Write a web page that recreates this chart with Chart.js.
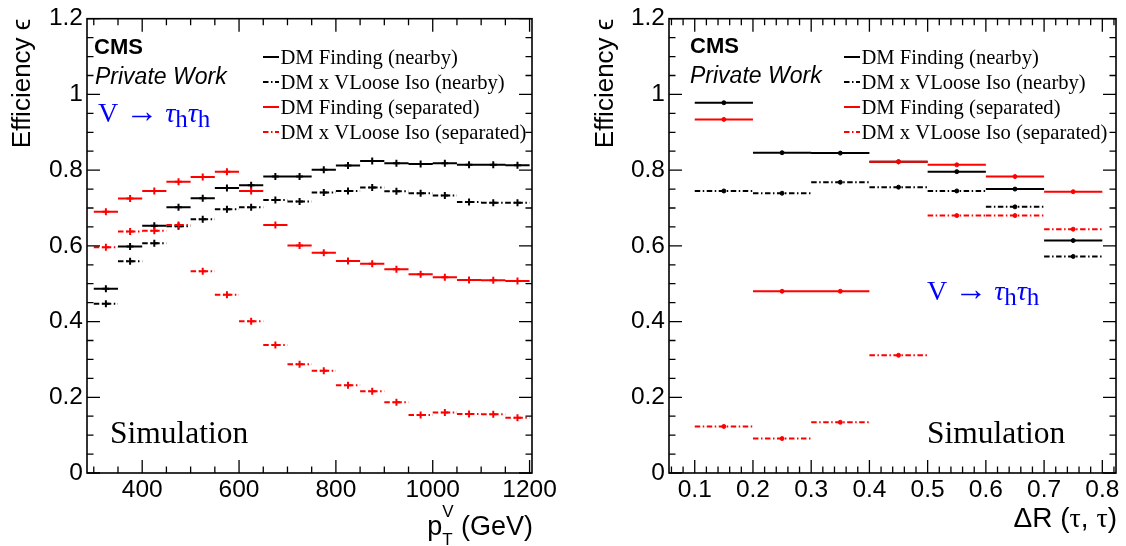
<!DOCTYPE html>
<html>
<head>
<meta charset="utf-8">
<title>Tau pair efficiency</title>
<script src="https://cdn.jsdelivr.net/npm/chart.js@4.4.1/dist/chart.umd.min.js"></script>
<style>
  html, body { margin: 0; padding: 0; background: #fff; }
  #wrap { position: relative; width: 1126px; height: 546px; }
  canvas { position: absolute; top: 0; }
  #c-pt { left: 0; }
  #c-dr { left: 563px; }
</style>
</head>
<body>
<div id="wrap">
  <canvas id="c-pt" width="563" height="546"></canvas>
  <canvas id="c-dr" width="563" height="546"></canvas>
</div>
<script>
// ---- data ----
const seriesLabels = [
    "DM Finding (nearby)",
    "DM x VLoose Iso (nearby)",
    "DM Finding (separated)",
    "DM x VLoose Iso (separated)",
];

// left panel: pT of the boson (GeV), 50 GeV bins
const ptEdges = [300, 350, 400, 450, 500, 550, 600, 650, 700, 750, 800, 850, 900, 950, 1000, 1050, 1100, 1150, 1200];
const dmNearbyPt = [0.487, 0.598, 0.653, 0.702, 0.726, 0.753, 0.760, 0.783, 0.783, 0.801, 0.812, 0.824, 0.818, 0.816, 0.818, 0.814, 0.814, 0.813];
const isoNearbyPt = [0.447, 0.559, 0.607, 0.652, 0.670, 0.697, 0.702, 0.721, 0.717, 0.741, 0.745, 0.754, 0.744, 0.739, 0.733, 0.716, 0.714, 0.714];
const dmSepPt = [0.690, 0.725, 0.745, 0.769, 0.782, 0.796, 0.745, 0.655, 0.601, 0.582, 0.560, 0.553, 0.538, 0.525, 0.517, 0.510, 0.509, 0.507];
const isoSepPt = [0.596, 0.638, 0.640, 0.655, 0.533, 0.471, 0.401, 0.338, 0.287, 0.270, 0.232, 0.216, 0.187, 0.153, 0.160, 0.156, 0.155, 0.146];

// right panel: dR(tau, tau), 0.1 bins
const drEdges = [0.1, 0.2, 0.3, 0.4, 0.5, 0.6, 0.7, 0.8];
const dmNearbyDr = [0.978, 0.846, 0.845, 0.822, 0.796, 0.750, 0.614];
const isoNearbyDr = [0.745, 0.739, 0.768, 0.755, 0.745, 0.703, 0.572];
const dmSepDr = [0.934, 0.480, 0.480, 0.822, 0.814, 0.783, 0.743];
const isoSepDr = [0.123, 0.091, 0.134, 0.311, 0.680, 0.680, 0.644];

// ticks
const ptTickValues = [400, 600, 800, 1000, 1200];
const ptTickLabels = ["400", "600", "800", "1000", "1200"];
const ptMinorTicks = [300, 350, 450, 500, 550, 650, 700, 750, 850, 900, 950, 1050, 1100, 1150];
const drTickValues = [0.1, 0.2, 0.3, 0.4, 0.5, 0.6, 0.7, 0.8];
const drTickLabels = ["0.1", "0.2", "0.3", "0.4", "0.5", "0.6", "0.7", "0.8"];
const drMinorTicks = [0.06, 0.08, 0.12, 0.14, 0.16, 0.18, 0.22, 0.24, 0.26, 0.28, 0.32, 0.34, 0.36, 0.38,
    0.42, 0.44, 0.46, 0.48, 0.52, 0.54, 0.56, 0.58, 0.62, 0.64, 0.66, 0.68, 0.72, 0.74, 0.76, 0.78, 0.82];
const effTickValues = [0, 0.2, 0.4, 0.6, 0.8, 1, 1.2];
const effTickLabels = ["0", "0.2", "0.4", "0.6", "0.8", "1", "1.2"];
const effMinorTicks = [0.05, 0.1, 0.15, 0.25, 0.3, 0.35, 0.45, 0.5, 0.55, 0.65, 0.7, 0.75, 0.85, 0.9, 0.95, 1.05, 1.1, 1.15];

// ---- styling ----
const SANS = '"Liberation Sans", Arial, sans-serif';
const SERIF = '"Liberation Serif", "Times New Roman", serif';
const RED = "#ff0000";
const BLACK = "#000000";
const DASH_DOT = [5.5, 2.5, 1.5, 2.5];

const seriesStyles = [
    { color: BLACK, dash: [], order: 4 },
    { color: BLACK, dash: DASH_DOT, order: 3 },
    { color: RED, dash: [], order: 2 },
    { color: RED, dash: DASH_DOT, order: 1 },
];

// one flat segment per bin with a marker at the bin centre, gaps between bins
function binSteps(edges, values) {
    const pts = [];
    values.forEach((v, i) => {
        const lo = edges[i];
        const hi = edges[i + 1];
        pts.push({ x: lo, y: v }, { x: (lo + hi) / 2, y: v }, { x: hi, y: v }, { x: hi, y: null });
    });
    return pts;
}

function makeDatasets(edges, seriesList, marker) {
    return seriesList.map((values, i) => {
        const st = seriesStyles[i];
        return {
            label: seriesLabels[i],
            data: binSteps(edges, values),
            borderColor: st.color,
            backgroundColor: st.color,
            borderWidth: 2,
            borderDash: st.dash,
            order: st.order,
            spanGaps: false,
            tension: 0,
            fill: false,
            pointStyle: marker.style,
            pointRadius: (c) => (c.index % 4 === 1 ? marker.radius : 0),
            pointBorderWidth: marker.width,
            pointBorderColor: st.color,
            pointBackgroundColor: st.color,
        };
    });
}

function drawParts(ctx, x, base, parts) {
    parts.forEach(([t, font, dy]) => {
        ctx.font = font;
        ctx.fillText(t, x, base + dy);
        x += ctx.measureText(t).width;
    });
}

function partsWidth(ctx, parts) {
    return parts.reduce((w, [t, font]) => {
        ctx.font = font;
        return w + ctx.measureText(t).width;
    }, 0);
}

function drawDecay(ctx, x, base) {
    ctx.fillStyle = "#0000ff";
    drawParts(ctx, x, base, [
        ["V ", `28px ${SERIF}`, 0],
        ["\u2192", `33px ${SERIF}`, 0],
        [" ", `28px ${SERIF}`, 0],
        ["\u03C4", `italic 28px ${SERIF}`, 0],
        ["h", `25px ${SERIF}`, 5],
        ["\u03C4", `italic 28px ${SERIF}`, 0],
        ["h", `25px ${SERIF}`, 5],
    ]);
}

// frame, inner ticks, labels and legend in ROOT style
function makeOverlay(spec) {
    return {
        id: "overlay",
        afterDatasetsDraw(chart) {
            const { ctx, chartArea: a, scales } = chart;
            const sx = scales.x;
            const sy = scales.y;
            ctx.save();
            ctx.setLineDash([]);
            ctx.strokeStyle = "#000";
            ctx.lineWidth = 1.3;
            ctx.beginPath();
            const xTicks = (vals, len) =>
                vals.forEach((v) => {
                    const px = sx.getPixelForValue(v);
                    ctx.moveTo(px, a.bottom);
                    ctx.lineTo(px, a.bottom - len);
                    ctx.moveTo(px, a.top);
                    ctx.lineTo(px, a.top + len);
                });
            const yTicks = (vals, len) =>
                vals.forEach((v) => {
                    const py = sy.getPixelForValue(v);
                    ctx.moveTo(a.left, py);
                    ctx.lineTo(a.left + len, py);
                    ctx.moveTo(a.right, py);
                    ctx.lineTo(a.right - len, py);
                });
            xTicks(spec.xMajor, 13);
            xTicks(spec.xMinor, 6.5);
            yTicks(effTickValues, 13);
            yTicks(effMinorTicks, 6.5);
            ctx.stroke();
            ctx.lineWidth = 1.6;
            ctx.strokeRect(a.left, a.top, a.right - a.left, a.bottom - a.top);
            ctx.restore();
        },
        afterDraw(chart) {
            const { ctx } = chart;
            ctx.save();
            ctx.textBaseline = "alphabetic";
            ctx.textAlign = "left";
            ctx.fillStyle = "#000";

            ctx.font = `bold 22px ${SANS}`;
            ctx.fillText("CMS", spec.cms[0], spec.cms[1]);
            ctx.font = `italic 23px ${SANS}`;
            ctx.fillText("Private Work", spec.priv[0], spec.priv[1]);
            ctx.font = `31.5px ${SERIF}`;
            ctx.fillText("Simulation", spec.sim[0], spec.sim[1]);
            drawDecay(ctx, spec.decay[0], spec.decay[1]);

            // legend
            const lg = spec.legend;
            chart.data.datasets.forEach((ds, i) => {
                const cy = lg.y + i * lg.dy;
                ctx.strokeStyle = ds.borderColor;
                ctx.lineWidth = 2;
                ctx.setLineDash(ds.borderDash);
                ctx.beginPath();
                ctx.moveTo(lg.x, cy);
                ctx.lineTo(lg.x + 16, cy);
                ctx.stroke();
                ctx.setLineDash([]);
                ctx.fillStyle = "#000";
                ctx.font = `20.6px ${SERIF}`;
                ctx.fillText(ds.label, lg.x + 17.5, cy + 6.5);
            });

            // x axis title, right aligned
            ctx.fillStyle = "#000";
            spec.xTitle(ctx);
            ctx.restore();
        },
    };
}

function buildChart(canvasId, cfg) {
    const tickFont = { family: SANS, size: 24.5 };
    return new Chart(document.getElementById(canvasId), {
        type: "line",
        data: { datasets: makeDatasets(cfg.edges, cfg.series, cfg.marker) },
        options: {
            responsive: false,
            animation: false,
            events: [],
            layout: { padding: cfg.padding },
            scales: {
                x: {
                    type: "linear",
                    min: cfg.xMin,
                    max: cfg.xMax,
                    afterBuildTicks: (s) => {
                        s.ticks = cfg.xTicks.map((v) => ({ value: v }));
                    },
                    afterFit: (s) => {
                        s.height = 73;
                    },
                    grid: { display: false, drawTicks: false },
                    border: { display: false },
                    ticks: {
                        autoSkip: false,
                        maxRotation: 0,
                        padding: 3,
                        color: "#000",
                        font: tickFont,
                        callback: (v, i) => cfg.xLabels[i],
                    },
                },
                y: {
                    type: "linear",
                    min: 0,
                    max: 1.2,
                    afterBuildTicks: (s) => {
                        s.ticks = effTickValues.map((v) => ({ value: v }));
                    },
                    afterFit: (s) => {
                        s.width = cfg.yWidth;
                    },
                    grid: { display: false, drawTicks: false },
                    border: { display: false },
                    ticks: {
                        autoSkip: false,
                        padding: 4,
                        color: "#000",
                        font: tickFont,
                        callback: (v, i) => effTickLabels[i],
                    },
                    title: {
                        display: true,
                        text: "Efficiency \u03F5",
                        align: "end",
                        color: "#000",
                        font: { family: SANS, size: 26 },
                        padding: { top: cfg.yTitlePad, bottom: 0 },
                    },
                },
            },
            plugins: {
                legend: { display: false },
                tooltip: { enabled: false },
            },
        },
        plugins: [makeOverlay(cfg.overlay)],
    });
}

// ---- left: efficiency vs pT ----
buildChart("c-pt", {
    edges: ptEdges,
    series: [dmNearbyPt, isoNearbyPt, dmSepPt, isoSepPt],
    marker: { style: "cross", radius: 3.5, width: 2 },
    padding: { left: 0, right: 31, top: 17, bottom: 0 },
    xMin: 286,
    xMax: 1205,
    xTicks: ptTickValues,
    xLabels: ptTickLabels,
    yWidth: 87,
    yTitlePad: 7,
    overlay: {
        xMajor: ptTickValues,
        xMinor: ptMinorTicks,
        cms: [94, 54],
        priv: [95, 84],
        decay: [98, 122],
        sim: [110, 443],
        legend: { x: 263, y: 57, dy: 25 },
        xTitle: (ctx) => {
            const big = `27px ${SANS}`;
            const small = `17px ${SANS}`;
            ctx.font = big;
            const wp = ctx.measureText("p").width;
            const wr = ctx.measureText(" (GeV)").width;
            ctx.font = small;
            const ws = Math.max(ctx.measureText("T").width, ctx.measureText("V").width);
            let x = 533 - (wp + ws + wr);
            const base = 535;
            ctx.font = big;
            ctx.fillText("p", x, base);
            x += wp;
            ctx.font = small;
            ctx.fillText("V", x, base - 18);
            ctx.fillText("T", x, base + 10);
            x += ws;
            ctx.font = big;
            ctx.fillText(" (GeV)", x, base);
        },
    },
});

// ---- right: efficiency vs dR ----
buildChart("c-dr", {
    edges: drEdges,
    series: [dmNearbyDr, isoNearbyDr, dmSepDr, isoSepDr],
    marker: { style: "circle", radius: 2, width: 1 },
    padding: { left: 0, right: 10, top: 17, bottom: 0 },
    xMin: 0.0558,
    xMax: 0.8235,
    xTicks: drTickValues,
    xLabels: drTickLabels,
    yWidth: 106,
    yTitlePad: 27,
    overlay: {
        xMajor: drTickValues,
        xMinor: drMinorTicks,
        cms: [127, 53],
        priv: [127, 83],
        decay: [364, 300],
        sim: [364, 443],
        legend: { x: 281, y: 57, dy: 25 },
        xTitle: (ctx) => {
            const parts = [
                ["\u0394R (", `28px ${SANS}`, 0],
                ["\u03C4", `28px ${SERIF}`, 0],
                [", ", `28px ${SANS}`, 0],
                ["\u03C4", `28px ${SERIF}`, 0],
                [")", `28px ${SANS}`, 0],
            ];
            drawParts(ctx, 554 - partsWidth(ctx, parts), 527, parts);
        },
    },
});
</script>
</body>
</html>
